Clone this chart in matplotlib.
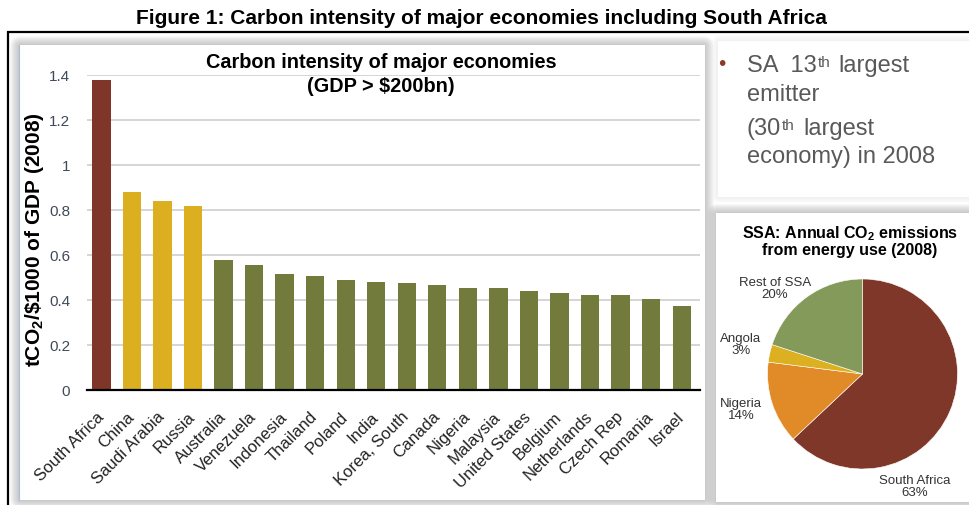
import matplotlib
matplotlib.use("Agg")
import matplotlib.pyplot as plt
from matplotlib.patches import Rectangle, FancyBboxPatch
from matplotlib.ticker import FuncFormatter, MultipleLocator

plt.rcParams["font.family"] = ["Liberation Sans", "DejaVu Sans"]
plt.rcParams["mathtext.fontset"] = "custom"
plt.rcParams["mathtext.rm"] = "Liberation Sans"
plt.rcParams["mathtext.bf"] = "Liberation Sans:bold"

# ---- data -------------------------------------------------------------
countries = ["South Africa", "China", "Saudi Arabia", "Russia", "Australia",
             "Venezuela", "Indonesia", "Thailand", "Poland", "India",
             "Korea, South", "Canada", "Nigeria", "Malaysia", "United States",
             "Belgium", "Netherlands", "Czech Rep", "Romania", "Israel"]
intensity = [1.38, 0.88, 0.84, 0.82, 0.58, 0.555, 0.517, 0.508, 0.489, 0.48,
             0.476, 0.466, 0.452, 0.452, 0.439, 0.43, 0.424, 0.424, 0.406, 0.373]
bar_groups = ["sa", "high", "high", "high"] + ["other"] * 16
group_colors = {"sa": "#7F3628", "high": "#DBAF20", "other": "#737B3C"}

pie_labels = ["South Africa", "Nigeria", "Angola", "Rest of SSA"]
pie_shares = [63, 14, 3, 20]
pie_colors = ["#7E3728", "#E08B28", "#DCB020", "#849A5A"]

W, H = 969, 506
fig = plt.figure(figsize=(W / 100, H / 100), dpi=100)

# ---- background canvas in pixel units ----------------------------------
bg = fig.add_axes([0, 0, 1, 1])
bg.set_xlim(0, W)
bg.set_ylim(H, 0)
bg.axis("off")


def panel(x0, y0, x1, y1, face="white", spread=9, shade="#8a8a8a", alpha=0.06):
    # soft drop-shadow made from stacked translucent boxes
    for i in range(spread, 0, -1):
        bg.add_patch(FancyBboxPatch((x0 - i, y0 - i), (x1 - x0) + 2 * i,
                                    (y1 - y0) + 2 * i,
                                    boxstyle="round,pad=0,rounding_size=%d" % (i + 2),
                                    facecolor=shade, edgecolor="none",
                                    alpha=alpha, zorder=1))
    bg.add_patch(Rectangle((x0, y0), x1 - x0, y1 - y0, facecolor=face,
                           edgecolor="none", zorder=2))


panel(19, 46, 705, 501)
panel(718, 42, 975, 198, face="white", spread=6, shade="#c8c8c8", alpha=0.04)
panel(716, 214, 975, 503)
bg.plot([19.5, 19.5], [46, 501], color="#a9bfd6", lw=0.8, zorder=3)

# outer frame
bg.plot([8.5, 8.5, W + 2], [H + 2, 32.5, 32.5], color="black", lw=1.6,
        zorder=4, solid_joinstyle="miter")

# figure caption
fig.text(0.497, 1 - 19 / H, "Figure 1: Carbon intensity of major economies including South Africa",
         ha="center", va="center", fontsize=15, fontweight="bold")

# ---- bar chart ---------------------------------------------------------
left, right, top, bottom = 86.7, 700, 76, 391
ax = fig.add_axes([left / W, 1 - bottom / H, (right - left) / W, (bottom - top) / H])
ax.set_facecolor("none")
x = list(range(len(countries)))
ax.bar(x, intensity, width=0.6, color=[group_colors[g] for g in bar_groups],
       zorder=3)
ax.set_xlim(-0.48, 19.6)
ax.set_ylim(0, 1.4)
ax.yaxis.set_major_locator(MultipleLocator(0.2))
ax.yaxis.set_major_formatter(FuncFormatter(lambda v, p: f"{v:g}"))
ax.grid(axis="y", color="#d2d2d2", lw=1.3, zorder=0)
ax.set_axisbelow(True)
for s in ("top", "right", "left"):
    ax.spines[s].set_visible(False)
ax.spines["bottom"].set_linewidth(1.6)
ax.spines["bottom"].set_zorder(4)
ax.tick_params(axis="y", length=0, pad=12, labelsize=11, labelcolor="#3f4a5a")
ax.tick_params(axis="x", length=0, pad=17)
ax.set_xticks(x)
ax.set_xticklabels(countries, rotation=45, ha="right", va="center",
                   rotation_mode="anchor", fontsize=12, color="#222222")

bg.text(34.5, 239.5, "tCO$_\\mathbf{2}$/\\$1000 of GDP (2008)", rotation=90,
        ha="center", va="center", fontsize=15, fontweight="bold", zorder=6)

bg.text(381, 62, "Carbon intensity of major economies", ha="center",
        va="center", fontsize=14.3, fontweight="bold", zorder=6)
bg.text(381, 86, "(GDP > \\$200bn)", ha="center", va="center", fontsize=14.3,
        fontweight="bold", zorder=6)

# ---- side note ---------------------------------------------------------
note = dict(fontsize=17, color="#595959", zorder=6)
bg.text(722, 64, "\u2022", ha="center", va="center", fontsize=15,
        color="#8B3A2A", zorder=6)
t1 = bg.text(747, 72, "SA  13", va="baseline", **note)
t2 = bg.annotate("th", xy=(1, 1), xycoords=t1, xytext=(0.5, -1),
                 textcoords="offset points", va="top", ha="left",
                 fontsize=11, color="#595959", zorder=6)
bg.annotate("largest", xy=(1, 0), xycoords=(t2, t1), xytext=(6, 0),
            textcoords="offset points", va="bottom", ha="left", **note)
bg.text(747, 101, "emitter", va="baseline", **note)
t4 = bg.text(747, 135, "(30", va="baseline", **note)
t5 = bg.annotate("th", xy=(1, 1), xycoords=t4, xytext=(0.5, -1),
                 textcoords="offset points", va="top", ha="left",
                 fontsize=11, color="#595959", zorder=6)
bg.annotate("largest", xy=(1, 0), xycoords=(t5, t4), xytext=(6, 0),
            textcoords="offset points", va="bottom", ha="left", **note)
bg.text(747, 163, "economy) in 2008", va="baseline", **note)

# ---- pie chart ---------------------------------------------------------
cx, cy, r = 862.5, 375, 95
pax = fig.add_axes([(cx - r) / W, 1 - (cy + r) / H, 2 * r / W, 2 * r / H])
pax.pie(pie_shares, colors=pie_colors, startangle=90, counterclock=False,
        wedgeprops=dict(edgecolor="white", linewidth=0.4))
pax.set_xlim(-1, 1)
pax.set_ylim(-1, 1)
pax.set_aspect("auto")

bg.text(850, 241, "SSA: Annual CO$_\\mathbf{2}$ emissions\nfrom energy use (2008)",
        ha="center", va="center", fontsize=11.5, fontweight="bold",
        linespacing=1.0, zorder=6)

label_pos = {"Rest of SSA": (775, 289), "Angola": (741, 345),
             "Nigeria": (741, 410), "South Africa": (915, 487)}
for name, share in zip(pie_labels, pie_shares):
    px, py = label_pos[name]
    bg.text(px, py, f"{name}\n{share}%", ha="center", va="center",
            fontsize=9.5, color="#333333", linespacing=1.0, zorder=6)

fig.savefig("out.png", dpi=100)
